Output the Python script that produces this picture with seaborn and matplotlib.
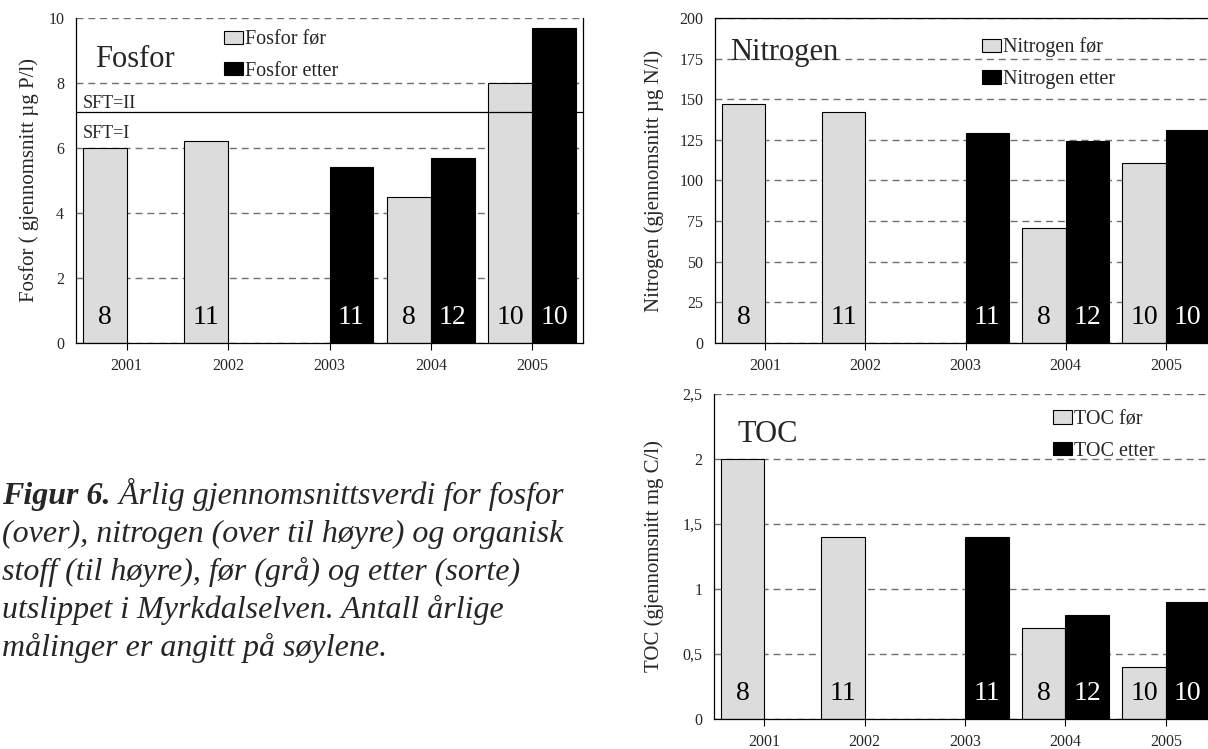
import numpy as np
import pandas as pd
import matplotlib.pyplot as plt
import seaborn as sns
from matplotlib.patches import Patch
from matplotlib.ticker import FuncFormatter, MultipleLocator

years = ['2001', '2002', '2003', '2004', '2005']
periods = ['før', 'etter']

fosfor_for = [6.0, 6.2, np.nan, 4.5, 8.0]
fosfor_etter = [np.nan, np.nan, 5.4, 5.7, 9.7]
nitrogen_for = [147, 142, np.nan, 71, 111]
nitrogen_etter = [np.nan, np.nan, 129, 124, 131]
toc_for = [2.0, 1.4, np.nan, 0.7, 0.4]
toc_etter = [np.nan, np.nan, 1.4, 0.8, 0.9]

# antall målinger per år
n_for = [8, 11, None, 8, 10]
n_etter = [None, None, 11, 12, 10]

sft_grense = 7.1

grey = '#dcdcdc'
black = '#000000'

sns.set_theme(style='white')
plt.rcParams['font.family'] = ['Liberation Serif', 'DejaVu Serif']


def long_df(before, after):
    rows = []
    for y, b, a in zip(years, before, after):
        if not np.isnan(b):
            rows.append((y, 'før', b))
        if not np.isnan(a):
            rows.append((y, 'etter', a))
    return pd.DataFrame(rows, columns=['year', 'period', 'value'])


def draw_panel(ax, before, after, name, ylabel, ymax, step, fmt,
               title_xy, leg_xy, ylabel_x, solid_top=False):
    df = long_df(before, after)
    sns.barplot(data=df, x='year', y='value', hue='period', order=years,
                hue_order=periods, palette=[grey, black], saturation=1,
                width=0.867, edgecolor='black', linewidth=0.8,
                legend=False, ax=ax)
    ax.set_xlim(-0.5, 4.5)
    ax.set_ylim(0, ymax)
    ax.yaxis.set_major_locator(MultipleLocator(step))
    ax.yaxis.set_major_formatter(FuncFormatter(fmt))
    ax.set_axisbelow(True)
    ax.grid(axis='y', color='#707070', linestyle=(0, (5, 3.5)), linewidth=1.0)
    ax.grid(axis='x', visible=False)
    for side in ['left', 'bottom', 'right', 'top']:
        ax.spines[side].set_visible(True)
        ax.spines[side].set_color('black')
        ax.spines[side].set_linewidth(0.9)
    ax.spines['top'].set_visible(solid_top)
    ax.tick_params(axis='x', length=5, width=0.8, direction='out', color='black',
                   bottom=True, labelsize=11.5, pad=6)
    ax.tick_params(axis='y', length=0, labelsize=11.5, pad=8.5)
    ax.set_xlabel('')
    ax.set_ylabel(ylabel, fontsize=15)
    ax.yaxis.set_label_coords(ylabel_x, 0.5)

    ax.text(title_xy[0], title_xy[1], name, transform=ax.transAxes,
            fontsize=22, va='baseline', ha='left')

    handles = [Patch(facecolor=grey, edgecolor='black', linewidth=0.8),
               Patch(facecolor=black, edgecolor='black', linewidth=0.8)]
    ax.legend(handles, [f'{name} før', f'{name} etter'], loc='upper left',
              bbox_to_anchor=leg_xy, frameon=False, borderpad=0,
              borderaxespad=0, handlelength=0.95, handleheight=0.65,
              handletextpad=0.1, labelspacing=0.62, fontsize=14.5)

    counts = [n_for, n_etter]
    colors = ['black', 'white']
    trans = ax.get_xaxis_transform()
    for k, cont in enumerate(ax.containers):
        for bar in cont:
            xc = bar.get_x() + bar.get_width() / 2
            i = int(round(xc))
            n = counts[k][i]
            if n is None:
                continue
            ax.text(xc, 0.058, str(n), transform=trans, ha='center',
                    va='baseline', fontsize=20, color=colors[k])


fig = plt.figure(figsize=(12.08, 7.49), dpi=100)
ax_p = fig.add_axes([76 / 1208, 1 - 343 / 749, 507 / 1208, 325 / 749])
ax_n = fig.add_axes([715 / 1208, 1 - 343 / 749, 501 / 1208, 325 / 749])
ax_t = fig.add_axes([714 / 1208, 1 - 719 / 749, 502 / 1208, 325 / 749])

draw_panel(ax_p, fosfor_for, fosfor_etter, 'Fosfor',
           'Fosfor ( gjennomsnitt µg P/l)', 10, 2,
           lambda v, p: f'{v:g}', (0.037, 0.849), (0.292, 0.962), -0.073)
draw_panel(ax_n, nitrogen_for, nitrogen_etter, 'Nitrogen',
           'Nitrogen (gjennomsnitt µg N/l)', 200, 25,
           lambda v, p: f'{v:g}', (0.031, 0.871), (0.533, 0.94), -0.102,
           solid_top=True)
draw_panel(ax_t, toc_for, toc_etter, 'TOC',
           'TOC (gjennomsnitt mg C/l)', 2.5, 0.5,
           lambda v, p: f'{v:g}'.replace('.', ','), (0.047, 0.852),
           (0.675, 0.95), -0.0996)

# SFT-klassegrense i fosforpanelet
ax_p.axhline(sft_grense, color='black', linewidth=0.9)
ax_p.text(0.014, sft_grense + 0.13, 'SFT=II', transform=ax_p.get_yaxis_transform(),
          fontsize=13, va='baseline')
ax_p.text(0.014, sft_grense - 0.8, 'SFT=I', transform=ax_p.get_yaxis_transform(),
          fontsize=13, va='baseline')

# figurtekst
cap_size = 23
y0 = 1 - 504 / 749
dy = 38 / 749
t1 = fig.text(0.002, y0, 'Figur 6.', fontsize=cap_size, fontstyle='italic',
              fontweight='bold', va='baseline')
plt.annotate(' Årlig gjennomsnittsverdi for fosfor', xy=(1, 0), xycoords=t1,
             fontsize=cap_size, fontstyle='italic', va='bottom', ha='left',
             annotation_clip=False)
lines = ['(over), nitrogen (over til høyre) og organisk',
         'stoff (til høyre), før (grå) og etter (sorte)',
         'utslippet i Myrkdalselven. Antall årlige',
         'målinger er angitt på søylene.']
for k, line in enumerate(lines):
    fig.text(0.002, y0 - (k + 1) * dy, line, fontsize=cap_size,
             fontstyle='italic', va='baseline')

fig.savefig('out.png', dpi=100)
